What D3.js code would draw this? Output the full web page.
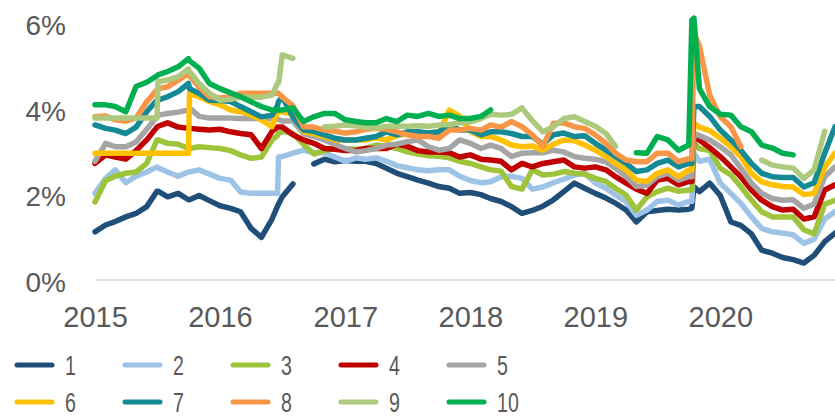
<!DOCTYPE html>
<html>
<head>
<meta charset="utf-8">
<script src="https://cdn.jsdelivr.net/npm/d3@7"></script>
<style>
  html, body { margin: 0; padding: 0; background: #fff; overflow: hidden; }
  text { font-family: "Liberation Sans", Arial, sans-serif; fill: #595959; }
</style>
</head>
<body>
<svg id="chart" width="835" height="419"></svg>
<script>
// Observation dates: month starts, plus a few extra days where a series jumps
const dates = [
  "2015-01-01","2015-02-01","2015-03-01","2015-04-01","2015-05-01","2015-06-01","2015-07-01","2015-07-04","2015-08-01","2015-09-01","2015-10-01","2015-10-04","2015-11-01","2015-12-01",
  "2016-01-01","2016-02-01","2016-03-01","2016-04-01","2016-05-01","2016-06-01","2016-06-17","2016-06-20","2016-07-01","2016-08-01","2016-09-01","2016-10-01","2016-11-01","2016-12-01",
  "2017-01-01","2017-02-01","2017-03-01","2017-04-01","2017-05-01","2017-06-01","2017-07-01","2017-08-01","2017-09-01","2017-10-01","2017-11-01","2017-12-01",
  "2018-01-01","2018-02-01","2018-03-01","2018-04-01","2018-05-01","2018-06-01","2018-07-01","2018-08-01","2018-09-01","2018-10-01","2018-11-01","2018-12-01",
  "2019-01-01","2019-02-01","2019-03-01","2019-04-01","2019-05-01","2019-06-01","2019-07-01","2019-08-01","2019-09-01","2019-10-01","2019-10-10","2019-10-16","2019-11-01","2019-12-01",
  "2020-01-01","2020-02-01","2020-03-01","2020-04-01","2020-05-01","2020-06-01","2020-07-01","2020-08-01","2020-09-01","2020-10-01","2020-11-01","2020-12-01"
];

// Yields in percent, one value per date (null = no quote)
const s1 = [
  1.15,1.31,1.39,1.5,1.58,1.74,2.1,2.1,1.97,2.05,1.9,1.9,2.0,1.88,
  1.76,1.7,1.62,1.23,1.02,1.45,1.75,1.8,1.97,2.27,null,2.74,2.85,2.79,
  2.82,2.8,2.8,2.75,2.64,2.52,2.44,2.36,2.29,2.21,2.17,2.05,
  2.07,2.02,1.93,1.86,1.74,1.58,1.65,1.75,1.9,2.09,2.29,2.17,
  2.05,1.94,1.82,1.66,1.38,1.62,1.65,1.68,1.66,1.68,1.7,2.2,2.09,2.29,
  2.0,1.38,1.3,1.1,0.72,0.65,0.55,0.5,0.42,0.6,0.92,1.12
];
const s2 = [
  2.05,2.4,2.6,2.3,2.45,2.55,2.67,2.65,2.55,2.45,2.55,2.55,2.6,2.5,
  2.4,2.36,2.08,2.05,2.05,2.05,2.05,2.9,2.91,2.99,3.06,3.0,3.0,2.9,
  2.8,2.88,2.85,2.88,2.8,2.7,2.65,2.6,2.58,2.6,2.6,2.45,
  2.35,2.3,2.32,2.44,2.45,2.4,2.15,2.2,2.3,2.38,2.48,2.52,
  2.29,2.17,2.01,1.86,1.54,1.66,1.86,1.89,1.78,1.86,1.86,2.99,2.8,2.85,
  2.29,2.05,1.82,1.5,1.23,1.15,1.12,1.08,0.88,0.98,1.45,1.62
];
const s3 = [
  1.85,2.35,2.45,2.52,2.55,2.75,3.3,3.3,3.22,3.2,3.1,3.1,3.14,3.12,
  3.1,3.05,2.95,2.87,2.9,3.3,3.4,3.45,3.5,3.45,3.2,2.97,3.05,3.1,
  3.1,3.08,3.1,3.18,3.15,3.1,3.02,2.97,2.93,2.92,2.88,2.8,
  2.75,2.67,2.6,2.57,2.21,2.15,2.6,2.48,2.5,2.56,2.52,2.5,
  2.4,2.33,2.17,2.01,1.66,1.97,2.09,2.17,2.1,2.13,2.13,3.22,3.1,3.05,
  2.64,2.48,2.21,1.89,1.62,1.5,1.5,1.5,1.2,1.1,1.8,1.89
];
const s4 = [
  2.75,2.95,2.9,2.85,3.05,3.3,3.6,3.62,3.7,3.6,3.57,3.57,3.55,3.53,
  3.55,3.49,3.45,3.42,3.1,3.5,3.6,3.6,3.6,3.42,3.3,3.22,3.1,3.08,
  3.05,3.05,3.1,3.1,3.1,3.2,3.15,3.05,3.02,3.02,3.0,2.9,
  2.95,2.85,2.83,2.8,2.6,2.75,2.67,2.75,2.79,2.83,2.67,2.64,
  2.67,2.6,2.44,2.29,2.15,2.05,2.36,2.4,2.25,2.33,2.33,3.38,3.3,3.12,
  2.91,2.67,2.44,2.13,1.89,1.74,1.66,1.68,1.45,1.5,2.13,2.25
];
const s5 = [
  2.8,3.22,3.14,3.14,3.25,3.55,3.84,3.88,3.92,3.95,4.0,4.05,3.85,3.81,
  3.81,3.81,3.8,3.8,3.8,3.8,3.78,3.78,3.74,3.74,3.45,3.38,3.3,3.2,
  3.1,3.02,3.05,3.1,3.18,3.2,3.26,3.3,3.14,3.06,3.1,3.3,
  3.22,3.1,3.18,3.1,2.91,2.99,3.0,3.0,3.06,3.02,2.91,2.87,
  2.85,2.79,2.64,2.44,2.21,2.24,2.44,2.52,2.36,2.44,2.44,3.45,3.4,3.3,
  3.14,2.95,2.64,2.29,2.05,1.93,1.89,1.9,1.7,1.8,2.44,2.67
];
const s6 = [
  2.99,2.99,2.99,2.99,2.99,2.99,2.99,2.99,2.99,2.99,2.99,4.39,4.31,4.2,
  4.12,4.0,3.96,3.88,3.77,3.61,3.96,3.96,3.96,3.9,3.49,3.45,3.38,3.3,
  3.3,3.3,3.3,3.35,3.3,3.4,3.45,3.42,3.45,3.45,4.0,3.85,
  3.5,3.38,3.38,3.3,3.18,3.14,3.16,3.06,3.2,3.3,3.28,3.18,
  3.06,2.91,2.75,2.6,2.36,2.33,2.52,2.6,2.44,2.6,2.6,3.69,3.6,3.52,
  3.34,3.14,2.91,2.52,2.32,2.25,2.21,2.2,2.02,2.05,2.67,2.99
];
const s7 = [
  3.65,3.57,3.53,3.45,3.6,3.96,4.23,4.23,4.31,4.43,4.62,4.5,4.39,4.23,
  4.22,4.2,4.08,3.96,3.84,3.88,4.1,4.2,4.3,3.84,3.53,3.5,3.42,3.34,
  3.3,3.3,3.34,3.38,3.49,3.42,3.49,3.49,3.46,3.49,3.65,3.53,
  3.53,3.42,3.49,3.49,3.45,3.38,3.38,3.2,3.42,3.46,3.38,3.4,
  3.22,3.06,2.91,2.75,2.56,2.6,2.75,2.83,2.67,2.75,2.75,4.08,4.08,3.85,
  3.53,3.3,3.06,2.75,2.52,2.44,2.42,2.42,2.2,2.3,2.99,3.61
];
const s8 = [
  3.84,3.86,3.77,3.74,3.81,4.19,4.47,4.5,4.54,4.7,4.85,4.8,4.54,4.31,
  4.28,4.3,4.39,4.39,4.39,4.39,4.39,4.39,4.3,4.1,3.61,3.6,3.53,3.5,
  3.46,3.49,3.55,3.57,3.55,3.49,3.42,3.38,3.38,3.34,3.53,3.53,
  3.57,3.53,3.65,3.6,3.73,3.61,3.42,3.15,3.69,3.7,3.61,3.57,
  3.42,3.22,2.99,2.83,2.79,2.79,2.99,2.99,2.79,2.86,2.86,5.8,5.5,4.35,
  3.84,3.61,3.14,null,null,null,null,null,null,null,null,null
];
const s9 = [
  3.81,3.81,3.81,3.81,3.81,3.81,3.81,4.66,4.7,4.78,4.96,4.9,4.62,4.39,
  4.23,4.25,4.3,4.3,4.3,4.35,4.63,4.63,5.29,5.21,null,null,3.6,3.62,
  3.65,3.63,3.6,3.58,3.62,3.62,3.62,3.63,3.62,3.65,3.66,3.7,
  3.72,3.8,3.9,3.88,3.9,4.05,3.75,3.49,3.61,3.8,3.84,3.73,
  3.62,3.45,3.15,null,null,null,null,null,null,null,null,null,null,null,
  null,null,null,null,2.83,2.71,2.67,2.64,2.4,2.6,3.5,null
];
const s10 = [
  4.12,4.12,4.08,3.96,4.55,4.65,4.8,4.82,4.9,5.01,5.2,5.15,4.98,4.62,
  4.5,4.4,4.31,4.19,4.08,4.0,4.0,4.0,4.0,4.05,3.73,3.84,3.92,3.92,
  3.77,3.73,3.7,3.7,3.8,3.73,3.88,3.85,3.92,3.85,3.88,3.8,
  3.8,3.85,4.0,null,null,null,null,null,null,null,null,null,
  null,null,null,null,3.0,2.99,3.38,3.3,3.06,3.18,6.1,6.15,4.5,4.08,
  3.9,3.88,3.61,3.49,3.18,3.11,2.99,2.95,null,null,null,null
];

const seriesNames  = ["1","2","3","4","5","6","7","8","9","10"];
const seriesColors = ["#1F4E79","#9DC3E6","#9DC43A","#C00000","#A5A5A5",
                      "#FFC000","#138A94","#F79646","#ADC97E","#00B050"];
const seriesValues = [s1,s2,s3,s4,s5,s6,s7,s8,s9,s10];
const yTickValues  = [0, 2, 4, 6];
const yearLabels   = ["2015","2016","2017","2018","2019","2020"];

const parse = d3.timeParse("%Y-%m-%d");
const dateObjs = dates.map(parse);

const svg = d3.select("#chart");

const x = d3.scaleTime()
  .domain([parse("2015-01-01"), parse("2020-12-01")])
  .range([95, 835]);
const y = d3.scaleLinear().domain([0, 6]).range([281, 24.5]);

// baseline at 0%
svg.append("line")
  .attr("x1", 95).attr("x2", 835)
  .attr("y1", y(0) - 1).attr("y2", y(0) - 1)
  .attr("stroke", "#D9D9D9").attr("stroke-width", 1.5);

// y axis labels
const yAxis = d3.axisLeft(y).tickValues(yTickValues)
  .tickFormat(d => d + "%").tickSize(0).tickPadding(0);
const gy = svg.append("g").attr("transform", "translate(66,0)").call(yAxis);
gy.select(".domain").remove();
gy.selectAll("text")
  .attr("font-size", 28).attr("fill", "#595959")
  .attr("font-family", "'Liberation Sans', Arial, sans-serif")
  .attr("dy", "0.36em");

// x axis year labels
const xAxis = d3.axisBottom(x)
  .tickValues(yearLabels.map(yr => parse(yr + "-01-01")))
  .tickFormat((d, i) => yearLabels[i]).tickSize(0).tickPadding(0);
const gx = svg.append("g").attr("transform", "translate(0,327)").call(xAxis);
gx.select(".domain").remove();
gx.selectAll("text")
  .attr("font-size", 29).attr("fill", "#595959")
  .attr("font-family", "'Liberation Sans', Arial, sans-serif")
  .attr("dy", 0).attr("y", 0);

// series lines
const line = d3.line()
  .defined(d => d.v !== null)
  .x(d => x(d.t))
  .y(d => y(d.v));

seriesValues.forEach((vals, i) => {
  const pts = vals.map((v, j) => ({ t: dateObjs[j], v }));
  svg.append("path")
    .datum(pts)
    .attr("d", line)
    .attr("fill", "none")
    .attr("stroke", seriesColors[i])
    .attr("stroke-width", 5.5)
    .attr("stroke-linejoin", "round")
    .attr("stroke-linecap", "round");
});

// legend: five columns, two rows
const legend = svg.append("g");
seriesNames.forEach((name, i) => {
  const col = i % 5, row = Math.floor(i / 5);
  const lx = 17 + col * 108;
  const ly = 365 + row * 37;
  legend.append("line")
    .attr("x1", lx).attr("x2", lx + 35)
    .attr("y1", ly).attr("y2", ly)
    .attr("stroke", seriesColors[i])
    .attr("stroke-width", 5)
    .attr("stroke-linecap", "round");
  legend.append("text")
    .attr("transform", `translate(${lx + 48},${ly + 10}) scale(0.7,1)`)
    .attr("font-size", 28)
    .text(name);
});
</script>
</body>
</html>
